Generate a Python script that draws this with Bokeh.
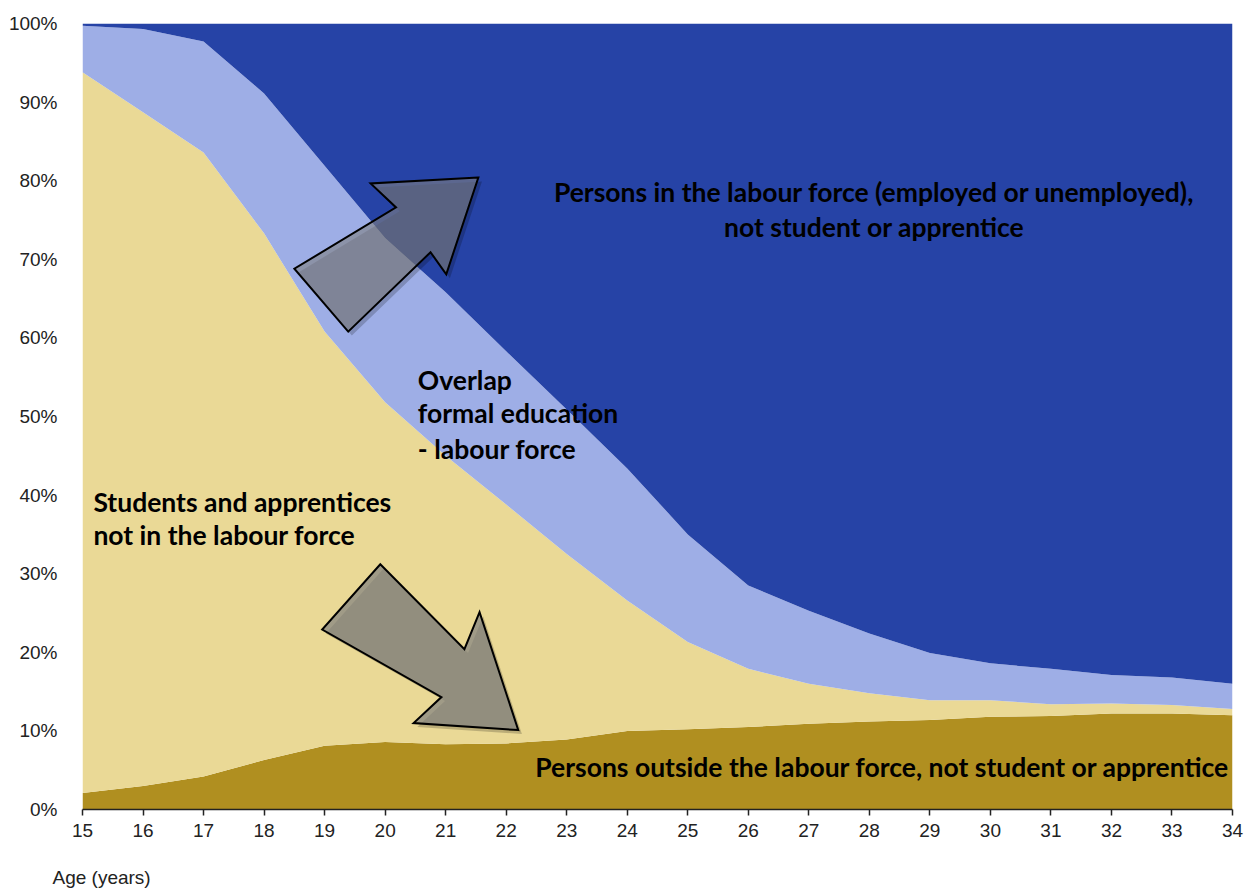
from bokeh.plotting import figure
from bokeh.models import ColumnDataSource, Label, NumeralTickFormatter, FixedTicker, Range1d, Title
from bokeh.embed import file_html
from bokeh.resources import INLINE

# Age in years
ages = list(range(15, 35))

# Shares of the population by activity status (percent), stacked bottom to top
outside_lf = [2.1, 3.0, 4.2, 6.3, 8.1, 8.6, 8.3, 8.4, 8.9, 10.0,
              10.2, 10.5, 10.9, 11.2, 11.4, 11.8, 11.9, 12.2, 12.2, 12.0]
students_not_lf = [91.7, 85.7, 79.4, 67.0, 52.7, 43.2, 36.7, 30.4, 23.6, 16.6,
                   11.1, 7.4, 5.1, 3.6, 2.5, 2.1, 1.5, 1.3, 1.1, 0.8]
overlap_edu_lf = [5.9, 10.6, 14.1, 17.8, 21.1, 20.9, 20.8, 19.5, 18.4, 16.8,
                  13.7, 10.6, 9.3, 7.6, 6.0, 4.7, 4.5, 3.6, 3.5, 3.2]
labour_force = [0.3, 0.7, 2.3, 8.9, 18.1, 27.3, 34.2, 41.7, 49.1, 56.6,
                65.0, 71.5, 74.7, 77.6, 80.1, 81.4, 82.1, 82.9, 83.2, 84.0]

series_names = ["outside", "students", "overlap", "labour"]
series_colors = ["#B08F20", "#EAD996", "#9EAEE6", "#2643A6"]

source = ColumnDataSource(data=dict(
    age=ages,
    outside=[v / 100 for v in outside_lf],
    students=[v / 100 for v in students_not_lf],
    overlap=[v / 100 for v in overlap_edu_lf],
    labour=[v / 100 for v in labour_force],
))

p = figure(
    frame_width=1150, frame_height=786,
    min_border_left=82, min_border_right=13, min_border_top=23, min_border_bottom=0,
    x_range=Range1d(15, 34), y_range=Range1d(0, 1),
    output_backend="svg", toolbar_location=None,
    background_fill_color="white", border_fill_color="white",
)
p.outline_line_color = None
p.grid.visible = False

p.varea_stack(stackers=series_names, x="age", color=series_colors, source=source)

# Axes
p.xaxis.ticker = FixedTicker(ticks=ages)
p.xaxis.axis_line_color = "#222222"
p.xaxis.axis_line_width = 1.5
p.xaxis.major_tick_line_color = "#222222"
p.xaxis.major_tick_line_width = 1.5
p.xaxis.major_tick_out = 6
p.xaxis.major_tick_in = 0
p.xaxis.minor_tick_line_color = None
p.xaxis.major_label_standoff = 8
p.xaxis.major_label_text_font = "Liberation Sans"
p.xaxis.major_label_text_font_size = "19px"
p.xaxis.major_label_text_color = "#222222"

p.yaxis.ticker = FixedTicker(ticks=[i / 10 for i in range(11)])
p.yaxis.formatter = NumeralTickFormatter(format="0%")
p.yaxis.axis_line_color = None
p.yaxis.major_tick_line_color = None
p.yaxis.minor_tick_line_color = None
p.yaxis.major_label_standoff = 19
p.yaxis.major_label_text_font = "Liberation Sans"
p.yaxis.major_label_text_font_size = "19px"
p.yaxis.major_label_text_color = "#222222"

p.add_layout(Title(text="Age (years)", align="left", offset=-30, standoff=51,
                   text_font="Liberation Sans", text_font_size="19px",
                   text_font_style="normal", text_color="#222222"), "below")

# Block arrows (outline in age / share coordinates)
arrow_up_x = [21.54, 19.76, 20.18, 18.50, 19.39, 20.75, 21.01]
arrow_up_y = [0.804, 0.7965, 0.766, 0.688, 0.608, 0.709, 0.681]
arrow_down_x = [22.20, 20.47, 20.93, 18.96, 19.92, 21.31, 21.56]
arrow_down_y = [0.101, 0.110, 0.143, 0.229, 0.312, 0.204, 0.251]

sdx, sdy = 0.06, -0.005
for xs, ys, alpha in [(arrow_up_x, arrow_up_y, 0.6), (arrow_down_x, arrow_down_y, 0.7)]:
    p.patch([x + sdx for x in xs], [y + sdy for y in ys],
            fill_color="black", fill_alpha=0.2, line_color=None)
    p.patch(xs, ys, fill_color="#808080", fill_alpha=alpha,
            line_color="black", line_width=2, line_join="miter")

# Area labels
def add_label(x, y, text, align="left", size="26.5px"):
    p.add_layout(Label(x=x, y=y, text=text, text_align=align, text_baseline="middle",
                       text_font="Lato", text_font_style="bold",
                       text_font_size=size, text_color="black"))

add_label(28.08, 0.785, "Persons in the labour force (employed or unemployed),", "center")
add_label(28.08, 0.741, "not student or apprentice", "center")
add_label(20.54, 0.546, "Overlap")
add_label(20.54, 0.504, "formal education")
add_label(20.54, 0.459, "- labour force")
add_label(15.18, 0.391, "Students and apprentices")
add_label(15.18, 0.349, "not in the labour force")
add_label(22.48, 0.054, "Persons outside the labour force, not student or apprentice")

open("out.html", "w").write(file_html(p, INLINE))
